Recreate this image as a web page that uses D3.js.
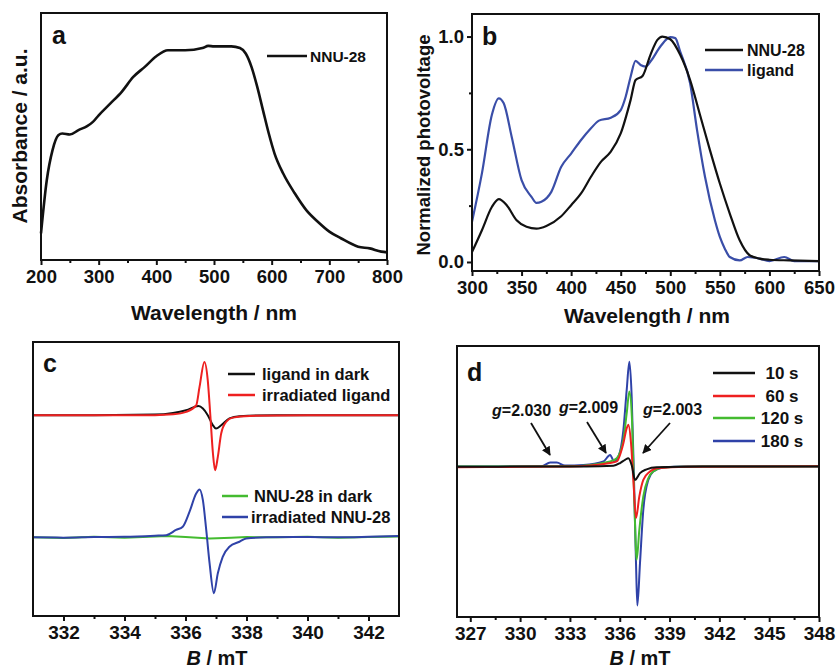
<!DOCTYPE html>
<html><head><meta charset="utf-8">
<script src="https://cdn.jsdelivr.net/npm/d3@7"></script>
<style>
body{margin:0;background:#fff;}
svg text{font-family:"Liberation Sans",Arial,sans-serif;font-weight:bold;fill:#111;}
</style></head>
<body><svg id="c" width="840" height="671"></svg>
<script>
// ---------- Panel a: absorbance ----------
const aWave = [200,210,220,230,237,250,265,280,290,300,320,340,360,380,400,420,450,480,490,500,530,545,555,565,575,585,595,605,620,640,660,680,700,720,750,770,790,800];
const aAbs  = [0.108,0.323,0.445,0.505,0.512,0.508,0.526,0.542,0.559,0.586,0.633,0.681,0.741,0.782,0.825,0.849,0.849,0.858,0.867,0.865,0.865,0.858,0.836,0.782,0.701,0.606,0.512,0.431,0.350,0.270,0.202,0.155,0.115,0.088,0.054,0.047,0.034,0.031];
const aXTicks = [200,300,400,500,600,700,800];
const aXMinor = [250,350,450,550,650,750];

// ---------- Panel b: photovoltage ----------
const bWaveN = [300,310,320,327,335,345,355,365,375,390,400,410,420,430,440,450,460,465,472,480,487,492,500,510,520,530,540,550,560,570,580,590,600,620,650];
const bNNU   = [0.044,0.141,0.244,0.279,0.252,0.185,0.156,0.148,0.160,0.203,0.252,0.304,0.378,0.444,0.489,0.570,0.719,0.807,0.825,0.919,0.985,1.0,0.988,0.919,0.807,0.652,0.496,0.348,0.215,0.096,0.030,0.015,0.010,0.007,0.004];
const bWaveL = [300,310,320,327,332,340,350,360,365,370,380,390,400,410,420,428,440,450,455,460,465,470,475,480,490,500,505,510,520,527,535,545,550,555,560,570,578,590,600,615,625,650];
const bLigand= [0.178,0.393,0.652,0.726,0.704,0.556,0.363,0.289,0.262,0.267,0.311,0.422,0.481,0.541,0.593,0.627,0.640,0.674,0.733,0.822,0.892,0.874,0.867,0.889,0.956,0.997,0.993,0.933,0.793,0.585,0.378,0.185,0.111,0.059,0.022,0.007,0.022,0.015,0.004,0.022,0.004,0.004];
const bXTicks = [300,350,400,450,500,550,600,650];
const bXMinor = [325,375,425,475,525,575,625];
const bYTicks = [0.0,0.5,1.0];
const bYMinor = [0.25,0.75];

// ---------- Panel c: EPR ligand / NNU-28 ----------
const cFieldDark = [331,333,335,335.59,336.02,336.43,336.57,336.73,336.90,337.00,337.17,337.44,337.77,339,341,343];
const cLigDark   = [73.3,73.3,73.5,74.1,75.1,76.6,75.7,73.3,69.6,68.4,69.6,72.1,72.9,73.3,73.3,73.3];
const cFieldIrr  = [331,333,335,335.6,336.02,336.35,336.46,336.62,336.73,336.81,336.90,336.97,337.06,337.17,337.33,337.55,338.10,340,343];
const cLigIrr    = [73.3,73.3,73.3,73.6,74.5,76.9,83.6,92.7,86.0,73.9,59.3,53.2,58.1,66.6,70.8,72.4,73.0,73.3,73.3];
const cFieldNd   = [331,332,333,334,335,335.4,336,336.8,337.5,338,339,340,341,342,343];
const cNNUDark   = [28.7,28.5,28.9,28.6,29.0,29.2,28.8,28.3,28.6,28.8,28.7,28.9,28.6,28.8,29.0];
const cFieldNi   = [331,332,333,334,335,335.37,335.69,335.91,336.13,336.35,336.46,336.57,336.68,336.79,336.93,337.06,337.22,337.44,337.77,337.99,338.64,340,341,342,343];
const cNNUIrr    = [28.7,28.6,28.8,28.9,29.3,29.5,31.4,32.6,38.0,44.7,46.2,42.3,31.4,19.2,8.3,15.6,21.6,25.3,27.1,28.3,28.7,28.8,28.7,28.9,29.2];
const cXTicks = [332,334,336,338,340,342];
const cXMinor = [333,335,337,339,341];

// ---------- Panel d: EPR time series ----------
const dField180 = [326.2,329,331.3,331.81,332.21,332.7,333.82,335.02,335.42,335.66,335.92,336.22,336.42,336.58,336.72,336.86,336.98,337.06,337.22,337.42,337.72,338.02,338.62,340,344,348];
const d180      = [55.5,55.5,55.6,57.0,57.0,55.9,56.1,57.4,59.8,57.4,59.2,69.0,83.8,94.2,81.3,50.6,19.9,4.2,19.9,39.6,50.6,53.7,55.2,55.5,55.6,55.6];
const dField120 = [326.2,330,333,335.42,335.82,336.22,336.42,336.58,336.73,336.86,337.02,337.18,337.42,337.72,338.02,338.62,341,348];
const d120      = [55.5,55.5,55.6,57.4,58.6,65.4,75.2,83.2,73.9,46.9,21.1,32.2,44.5,51.2,53.7,55.2,55.5,55.6];
const dField60  = [326.2,330,333,335.42,335.82,336.22,336.42,336.52,336.68,336.82,336.98,337.18,337.42,337.82,338.22,340,348];
const d60       = [55.3,55.4,55.5,56.8,57.4,64.1,69.7,70.9,64.1,50.6,36.5,44.5,50.6,53.7,54.9,55.4,55.6];
const dField10  = [326.2,330,334,335.62,336.02,336.32,336.52,336.73,336.92,337.22,337.62,338.22,341,348];
const d10       = [55.4,55.5,55.5,55.8,56.8,58.0,58.6,55.8,50.6,53.1,54.5,55.3,55.5,55.5];
const dXTicks = [327,330,333,336,339,342,345,348];
const dXMinor = [328.5,331.5,334.5,337.5,340.5,343.5,346.5];

const svg = d3.select("#c");
const defs = svg.append("defs");
defs.append("marker").attr("id","arr").attr("viewBox","0 0 10 10").attr("refX",9).attr("refY",5)
  .attr("markerWidth",9).attr("markerHeight",9).attr("markerUnits","userSpaceOnUse").attr("orient","auto")
  .append("path").attr("d","M0,0L10,5L0,10z").attr("fill","#111");

function frame(x, y){
  const [x0,x1] = x.range(), [y0,y1] = y.range();
  svg.append("rect").attr("x",x0).attr("y",y1).attr("width",x1-x0).attr("height",y0-y1)
    .attr("fill","none").attr("stroke","#111").attr("stroke-width",2);
}
function xAxis(x, y, ticks, minor, fmt, fs){
  const y0 = y.range()[0];
  const g = svg.append("g").attr("transform",`translate(0,${y0})`)
    .call(d3.axisBottom(x).tickValues(ticks).tickSize(5).tickPadding(5).tickFormat(fmt));
  g.select(".domain").remove();
  g.selectAll("line").attr("stroke","#111").attr("stroke-width",2);
  g.selectAll("text").attr("font-size",fs).attr("fill","#111").attr("font-weight","bold")
    .attr("font-family","Liberation Sans, Arial, sans-serif");
  const m = svg.append("g").attr("transform",`translate(0,${y0})`)
    .call(d3.axisBottom(x).tickValues(minor).tickSize(3).tickFormat(""));
  m.select(".domain").remove();
  m.selectAll("line").attr("stroke","#111").attr("stroke-width",2);
}
function yAxis(x, y, ticks, minor, fmt, fs){
  const x0 = x.range()[0];
  const g = svg.append("g").attr("transform",`translate(${x0},0)`)
    .call(d3.axisLeft(y).tickValues(ticks).tickSize(5).tickPadding(3).tickFormat(fmt));
  g.select(".domain").remove();
  g.selectAll("line").attr("stroke","#111").attr("stroke-width",2);
  g.selectAll("text").attr("font-size",fs).attr("fill","#111").attr("font-weight","bold")
    .attr("font-family","Liberation Sans, Arial, sans-serif");
  const m = svg.append("g").attr("transform",`translate(${x0},0)`)
    .call(d3.axisLeft(y).tickValues(minor).tickSize(3).tickFormat(""));
  m.select(".domain").remove();
  m.selectAll("line").attr("stroke","#111").attr("stroke-width",2);
}
function curve(x, y, xs, ys, color, w, smooth){
  const line = d3.line().x((d,i)=>x(xs[i])).y(d=>y(d)).curve(smooth ? d3.curveMonotoneX : d3.curveLinear);
  svg.append("path").attr("d", line(ys)).attr("fill","none").attr("stroke",color)
    .attr("stroke-width",w).attr("stroke-linejoin","round");
}
function legendItem(x1, x2, y, color, label, tx, fs, anchor){
  svg.append("line").attr("x1",x1).attr("x2",x2).attr("y1",y).attr("y2",y).attr("stroke",color).attr("stroke-width",2.5);
  svg.append("text").attr("x",tx).attr("y",y).attr("dy","0.36em").attr("font-size",fs)
    .attr("text-anchor",anchor||"start").text(label);
}
function bTitle(cx, cy, fs){
  const t = svg.append("text").attr("x",cx).attr("y",cy).attr("text-anchor","middle").attr("font-size",fs);
  t.append("tspan").attr("font-style","italic").text("B");
  t.append("tspan").text(" / mT");
}

// ===== Panel a =====
const ax = d3.scaleLinear().domain([200,800]).range([41,387]);
const ay = d3.scaleLinear().domain([0,1]).range([260,13]);
curve(ax, ay, aWave, aAbs, "#111", 2.6, true);
frame(ax, ay);
xAxis(ax, ay, aXTicks, aXMinor, d3.format("d"), 18.5);
svg.append("text").attr("x",214).attr("y",320).attr("text-anchor","middle").attr("font-size",21).text("Wavelength / nm");
svg.append("text").attr("transform","translate(27,136) rotate(-90)").attr("text-anchor","middle").attr("font-size",21).text("Absorbance / a.u.");
svg.append("text").attr("x",52).attr("y",44).attr("font-size",25).text("a");
legendItem(267, 307, 56, "#111", "NNU-28", 310, 15.5);

// ===== Panel b =====
const bx = d3.scaleLinear().domain([300,650]).range([472,819]);
const by = d3.scaleLinear().domain([-0.04,1.10]).range([271,14]);
curve(bx, by, bWaveL, bLigand, "#3a4ea8", 2.2, true);
curve(bx, by, bWaveN, bNNU, "#111", 2.2, true);
frame(bx, by);
xAxis(bx, by, bXTicks, bXMinor, d3.format("d"), 18.5);
yAxis(bx, by, bYTicks, bYMinor, d3.format(".1f"), 18.5);
svg.append("text").attr("x",647).attr("y",323).attr("text-anchor","middle").attr("font-size",21).text("Wavelength / nm");
svg.append("text").attr("transform","translate(430,145) rotate(-90)").attr("text-anchor","middle").attr("font-size",18.5).text("Normalized photovoltage");
svg.append("text").attr("x",482).attr("y",45).attr("font-size",25).text("b");
legendItem(705, 743, 50, "#111", "NNU-28", 747, 16);
legendItem(705, 743, 70, "#3a4ea8", "ligand", 747, 16);

// ===== Panel c =====
const cx = d3.scaleLinear().domain([331,343]).range([33,399]);
const cy = d3.scaleLinear().domain([0,100]).range([616,342]);
curve(cx, cy, cFieldDark, cLigDark, "#111", 2, true);
curve(cx, cy, cFieldIrr, cLigIrr, "#ee2020", 2, true);
curve(cx, cy, cFieldNd, cNNUDark, "#44bb30", 2, false);
curve(cx, cy, cFieldNi, cNNUIrr, "#2f42a8", 2, true);
frame(cx, cy);
xAxis(cx, cy, cXTicks, cXMinor, d3.format("d"), 19);
bTitle(217, 665, 20);
svg.append("text").attr("x",43).attr("y",372).attr("font-size",25).text("c");
legendItem(228, 255, 374, "#111", "ligand in dark", 262, 16.5);
legendItem(228, 255, 395, "#ee2020", "irradiated ligand", 262, 16.5);
legendItem(222, 248, 496, "#44bb30", "NNU-28 in dark", 254, 16.5);
legendItem(222, 248, 517, "#2f42a8", "irradiated NNU-28", 251, 16.5);

// ===== Panel d =====
const dx = d3.scaleLinear().domain([326.2,348]).range([457,819]);
const dy = d3.scaleLinear().domain([0,100]).range([617,346]);
curve(dx, dy, dField180, d180, "#2f42a8", 2, true);
curve(dx, dy, dField120, d120, "#44bb30", 2, true);
curve(dx, dy, dField60, d60, "#ee2020", 2, true);
curve(dx, dy, dField10, d10, "#111", 2, true);
frame(dx, dy);
xAxis(dx, dy, dXTicks, dXMinor, d3.format("d"), 19);
bTitle(640, 665, 20);
svg.append("text").attr("x",467).attr("y",381).attr("font-size",25).text("d");
legendItem(713, 755, 373, "#111", "10 s", 782, 17, "middle");
legendItem(713, 755, 396, "#ee2020", "60 s", 782, 17, "middle");
legendItem(713, 755, 418, "#44bb30", "120 s", 782, 17, "middle");
legendItem(713, 755, 441, "#2f42a8", "180 s", 782, 17, "middle");
const gAnn = [["2.030",492,416,531,423,550,455],["2.009",559,413,587,422,606,453],["2.003",643,415,670,423,643,453]];
gAnn.forEach(a=>{
  const t = svg.append("text").attr("x",a[1]).attr("y",a[2]).attr("font-size",16);
  t.append("tspan").attr("font-style","italic").text("g");
  t.append("tspan").text("=" + a[0]);
  svg.append("line").attr("x1",a[3]).attr("y1",a[4]).attr("x2",a[5]).attr("y2",a[6])
    .attr("stroke","#111").attr("stroke-width",1.8).attr("marker-end","url(#arr)");
});
</script></body></html>
